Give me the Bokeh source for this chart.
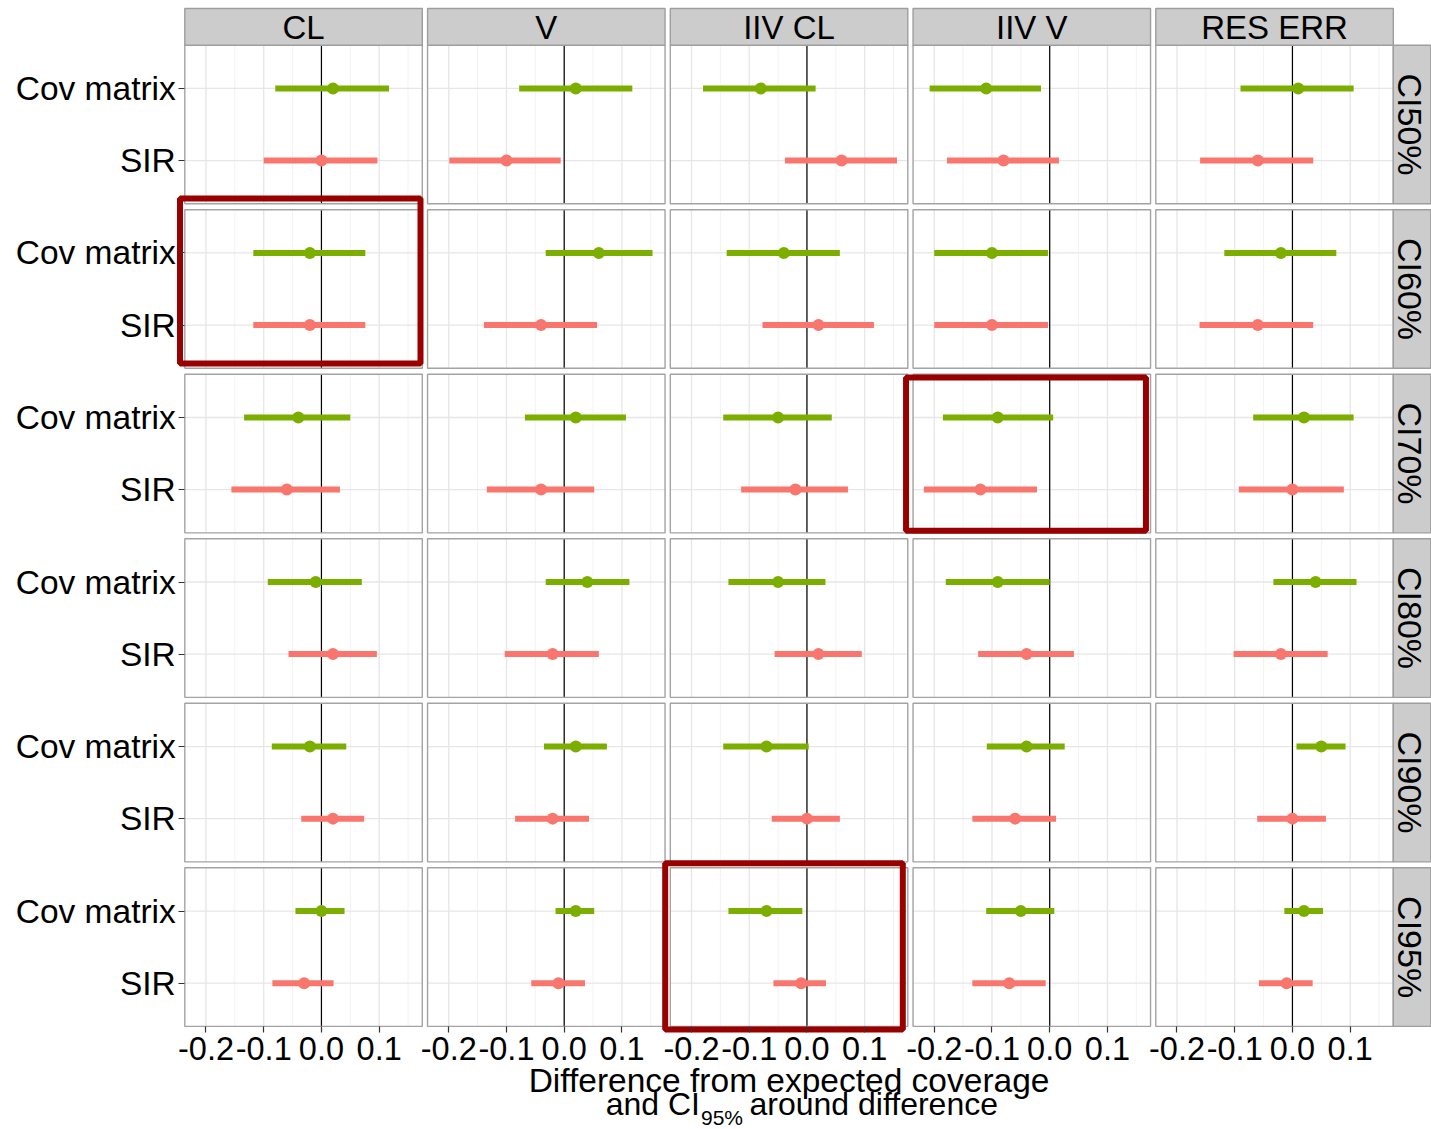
import numpy as np
from bokeh.plotting import figure
from bokeh.models import (Range1d, LinearAxis, FixedTicker, CustomJSTickFormatter,
                          ColumnDataSource)
from bokeh.core.properties import value
from bokeh.embed import file_html
from bokeh.resources import INLINE

# ---------------------------------------------------------------- data
parameters = ["CL", "V", "IIV CL", "IIV V", "RES ERR"]
ci_levels = ["CI50%", "CI60%", "CI70%", "CI80%", "CI90%", "CI95%"]
methods = ["Cov matrix", "SIR"]
method_colors = ["#7CAE00", "#F8766D"]
method_pos = [2, 1]          # discrete y positions inside a panel

# difference from expected coverage (rows: CI level, cols: parameter)
cov_est = [[0.02, 0.02, -0.08, -0.11, 0.01],
           [-0.02, 0.06, -0.04, -0.10, -0.02],
           [-0.04, 0.02, -0.05, -0.09, 0.02],
           [-0.01, 0.04, -0.05, -0.09, 0.04],
           [-0.02, 0.02, -0.07, -0.04, 0.05],
           [0.00, 0.02, -0.07, -0.05, 0.02]]
cov_lo = [[-0.080, -0.078, -0.180, -0.208, -0.090],
          [-0.118, -0.032, -0.139, -0.200, -0.118],
          [-0.134, -0.068, -0.145, -0.185, -0.068],
          [-0.093, -0.032, -0.136, -0.180, -0.033],
          [-0.086, -0.035, -0.145, -0.109, 0.007],
          [-0.045, -0.015, -0.136, -0.110, -0.014]]
cov_hi = [[0.117, 0.118, 0.015, -0.015, 0.106],
          [0.076, 0.153, 0.057, -0.003, 0.076],
          [0.050, 0.107, 0.043, 0.006, 0.106],
          [0.070, 0.113, 0.032, 0.000, 0.111],
          [0.043, 0.074, 0.003, 0.026, 0.092],
          [0.040, 0.052, -0.008, 0.008, 0.053]]

sir_est = [[0.00, -0.10, 0.06, -0.08, -0.06],
           [-0.02, -0.04, 0.02, -0.10, -0.06],
           [-0.06, -0.04, -0.02, -0.12, 0.00],
           [0.02, -0.02, 0.02, -0.04, -0.02],
           [0.02, -0.02, 0.00, -0.06, 0.00],
           [-0.03, -0.01, -0.01, -0.07, -0.01]]
sir_lo = [[-0.100, -0.199, -0.038, -0.178, -0.160],
          [-0.118, -0.139, -0.077, -0.200, -0.161],
          [-0.156, -0.134, -0.114, -0.218, -0.093],
          [-0.057, -0.103, -0.056, -0.124, -0.102],
          [-0.035, -0.085, -0.061, -0.134, -0.061],
          [-0.085, -0.057, -0.058, -0.134, -0.058]]
sir_hi = [[0.097, -0.006, 0.156, 0.016, 0.036],
          [0.076, 0.057, 0.116, -0.003, 0.036],
          [0.032, 0.052, 0.071, -0.022, 0.089],
          [0.096, 0.060, 0.095, 0.042, 0.061],
          [0.074, 0.043, 0.057, 0.011, 0.058],
          [0.021, 0.036, 0.033, -0.007, 0.035]]

x_ticks = [-0.2, -0.1, 0.0, 0.1]
x_tick_labels = ["-0.2", "-0.1", "0.0", "0.1"]
x_minor_ticks = [-0.15, -0.05, 0.05, 0.15]

# panels to highlight, with small nudges (px: left, right, top, bottom)
highlights = [("CI60%", "CL", (-4.8, -1.8, -11.2, -4.8)),
              ("CI70%", "IIV V", (-7.0, -4.6, 3.3, -2.0)),
              ("CI95%", "IIV CL", (-5.1, -5.0, -4.6, 3.1))]

# ---------------------------------------------------------------- layout (px)
W, H = 1431, 1129
PANEL_W, PANEL_H = 237.5, 158.6
COL_STRIDE, ROW_STRIDE = 242.75, 164.52
LEFT0, TOP0 = 184.3, 44.7
STRIP_TOP = 8.0
STRIP_RIGHT_W = 37.5
FONT = "Liberation Sans"

nrow, ncol = len(ci_levels), len(parameters)

est_all = [np.array(cov_est), np.array(sir_est)]
lo_all = [np.array(cov_lo), np.array(sir_lo)]
hi_all = [np.array(cov_hi), np.array(sir_hi)]

# shared continuous x scale with 5 % expansion
d_lo = min(a.min() for a in lo_all)
d_hi = max(a.max() for a in hi_all)
pad = 0.05 * (d_hi - d_lo)
xlo, xhi = d_lo - pad, d_hi + pad
ux = (xhi - xlo) / PANEL_W
col_step = COL_STRIDE * ux
x_start = xlo - LEFT0 * ux
x_end = x_start + W * ux

# discrete y scale: two levels, 0.6 expansion on both sides
ylo, yhi = 0.4, 2.6
uy = (yhi - ylo) / PANEL_H
row_step = ROW_STRIDE * uy
bottom_px = TOP0 + (nrow - 1) * ROW_STRIDE + PANEL_H
y_start = ylo - (H - bottom_px) * uy
y_end = y_start + H * uy


def X(v, c):
    return v + c * col_step


def Y(v, r):
    return v + (nrow - 1 - r) * row_step


def px_x(px):
    return x_start + px * ux


def px_y(py):
    return y_end - py * uy


p = figure(width=W, height=H, x_range=Range1d(x_start, x_end),
           y_range=Range1d(y_start, y_end), x_axis_type=None, y_axis_type=None,
           toolbar_location=None, output_backend="svg", min_border=0)
p.title.visible = False
p.outline_line_color = None
p.background_fill_color = "white"
p.border_fill_color = "white"

# panel backgrounds
pl, pr, pb, pt = [], [], [], []
for r in range(nrow):
    for c in range(ncol):
        pl.append(X(xlo, c)); pr.append(X(xhi, c))
        pb.append(Y(ylo, r)); pt.append(Y(yhi, r))
p.quad(left=pl, right=pr, bottom=pb, top=pt, fill_color="white", line_color=None)

# grid lines
def vsegs(ticks):
    x0, y0, y1 = [], [], []
    for r in range(nrow):
        for c in range(ncol):
            for t in ticks:
                if xlo < t < xhi:
                    x0.append(X(t, c)); y0.append(Y(ylo, r)); y1.append(Y(yhi, r))
    return x0, y0, y1

mx, my0, my1 = vsegs(x_minor_ticks)
p.segment(x0=mx, y0=my0, x1=mx, y1=my1, line_color="#F2F2F2", line_width=1.0)
Mx, My0, My1 = vsegs(x_ticks)
p.segment(x0=Mx, y0=My0, x1=Mx, y1=My1, line_color="#E6E6E6", line_width=1.3)

hx0, hx1, hy = [], [], []
for r in range(nrow):
    for c in range(ncol):
        for lv in method_pos:
            hx0.append(X(xlo, c)); hx1.append(X(xhi, c)); hy.append(Y(lv, r))
p.segment(x0=hx0, y0=hy, x1=hx1, y1=hy, line_color="#E6E6E6", line_width=1.3)

# reference line at zero difference
zx, zy0, zy1 = vsegs([0.0])
p.segment(x0=zx, y0=zy0, x1=zx, y1=zy1, line_color="black", line_width=1.2)

# intervals and estimates
for m, name in enumerate(methods):
    xs_lo, xs_hi, xs_est, ys = [], [], [], []
    for r in range(nrow):
        for c in range(ncol):
            xs_lo.append(X(lo_all[m][r, c], c))
            xs_hi.append(X(hi_all[m][r, c], c))
            xs_est.append(X(est_all[m][r, c], c))
            ys.append(Y(method_pos[m], r))
    src = ColumnDataSource(dict(lo=xs_lo, hi=xs_hi, est=xs_est, y=ys))
    p.segment(x0="lo", y0="y", x1="hi", y1="y", source=src,
              line_color=method_colors[m], line_width=6, line_cap="butt")
    p.scatter(x="est", y="y", source=src, size=12, fill_color=method_colors[m],
              line_color=None)

# panel borders
p.quad(left=pl, right=pr, bottom=pb, top=pt, fill_color=None,
       line_color="#A3A3A3", line_width=1.4)

# column strips
sl = [X(xlo, c) for c in range(ncol)]
sr = [X(xhi, c) for c in range(ncol)]
p.quad(left=sl, right=sr, bottom=[Y(yhi, 0)] * ncol, top=[px_y(STRIP_TOP)] * ncol,
       fill_color="#CCCCCC", line_color="#9E9E9E", line_width=1.4)
p.text(x=[X((xlo + xhi) / 2, c) for c in range(ncol)], y=[px_y(27.0)] * ncol,
       text=parameters, text_font=value(FONT), text_font_size="33px",
       text_color="black", text_align="center", text_baseline="middle")

# row strips
rl = X(xhi, ncol - 1)
rr = rl + STRIP_RIGHT_W * ux
p.quad(left=[rl] * nrow, right=[rr] * nrow, bottom=[Y(ylo, r) for r in range(nrow)],
       top=[Y(yhi, r) for r in range(nrow)], fill_color="#CCCCCC",
       line_color="#9E9E9E", line_width=1.4)
p.text(x=[rl + 16.5 * ux] * nrow, y=[Y((ylo + yhi) / 2, r) for r in range(nrow)],
       text=ci_levels, angle=-np.pi / 2, text_font=value(FONT), text_font_size="34px",
       text_color="black", text_align="center", text_baseline="middle")

# highlighted panels
bl, br, bb, bt = [], [], [], []
for lvl, par, (dl, dr, dt, db) in highlights:
    r, c = ci_levels.index(lvl), parameters.index(par)
    bl.append(X(xlo, c) + dl * ux); br.append(X(xhi, c) + dr * ux)
    bt.append(Y(yhi, r) - dt * uy); bb.append(Y(ylo, r) - db * uy)
p.quad(left=bl, right=br, bottom=bb, top=bt, fill_color=None,
       line_color="#990000", line_width=6)

# axes
yticks = [Y(pos, r) for r in range(nrow) for pos in method_pos]
yaxis = LinearAxis(fixed_location=X(xlo, 0),
                   ticker=FixedTicker(ticks=yticks, minor_ticks=[]),
                   formatter=CustomJSTickFormatter(
                       args=dict(step=row_step, names=methods, pos=method_pos),
                       code="""
const k = Math.round((tick - 1.5) / step);
const f = tick - k * step;
let best = 0;
for (let i = 0; i < pos.length; i++) {
  if (Math.abs(pos[i] - f) < Math.abs(pos[best] - f)) best = i;
}
return names[best];
"""))
xticks = [X(t, c) for c in range(ncol) for t in x_ticks]
xaxis = LinearAxis(fixed_location=Y(ylo, nrow - 1),
                   ticker=FixedTicker(ticks=xticks, minor_ticks=[]),
                   formatter=CustomJSTickFormatter(
                       args=dict(step=col_step, vals=x_ticks, labels=x_tick_labels),
                       code="""
const k = Math.round(tick / step);
const t = tick - k * step;
let best = 0;
for (let i = 0; i < vals.length; i++) {
  if (Math.abs(vals[i] - t) < Math.abs(vals[best] - t)) best = i;
}
return labels[best];
"""))
for ax, size, standoff in ((yaxis, "33.5px", 3), (xaxis, "32.5px", 5)):
    ax.axis_line_color = None
    ax.major_tick_out = 6
    ax.major_tick_in = 0
    ax.minor_tick_out = 0
    ax.minor_tick_in = 0
    ax.major_tick_line_color = "#333333"
    ax.major_tick_line_width = 1.2
    ax.major_label_text_font = FONT
    ax.major_label_text_font_size = size
    ax.major_label_text_color = "black"
    ax.major_label_standoff = standoff
p.add_layout(yaxis, "left")
p.add_layout(xaxis, "below")

# axis title (two lines, with a subscript)
mid = (X(xlo, 0) + X(xhi, ncol - 1)) / 2
p.text(x=[mid], y=[px_y(1079.5)], text=["Difference from expected coverage"],
       text_font=value(FONT), text_font_size="33.5px", text_color="black",
       text_align="center", text_baseline="middle")
p.text(x=[px_x(699.5)], y=[px_y(1103.5)], text=["and CI"],
       text_font=value(FONT), text_font_size="32px", text_color="black",
       text_align="right", text_baseline="middle")
p.text(x=[px_x(700.5)], y=[px_y(1116.5)], text=["95%"],
       text_font=value(FONT), text_font_size="21px", text_color="black",
       text_align="left", text_baseline="middle")
p.text(x=[px_x(749)], y=[px_y(1103.5)], text=["around difference"],
       text_font=value(FONT), text_font_size="32px", text_color="black",
       text_align="left", text_baseline="middle")

open("out.html", "w").write(file_html(p, INLINE))
